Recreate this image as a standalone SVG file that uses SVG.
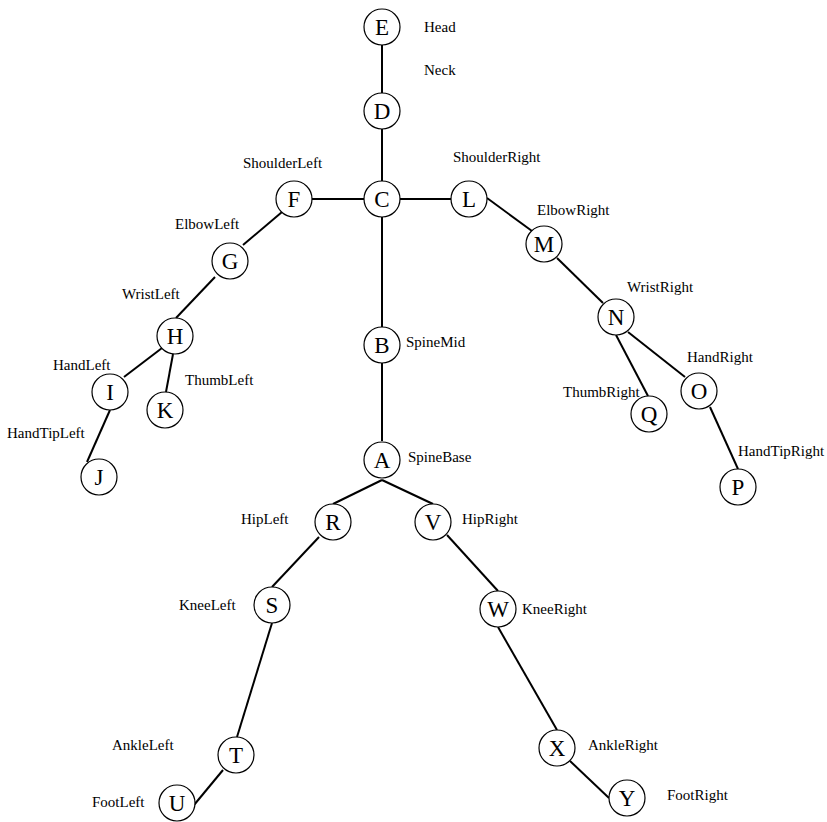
<svg xmlns="http://www.w3.org/2000/svg" width="827" height="822" viewBox="0 0 827 822">
<style>
.n circle{fill:#fff;stroke:#000;stroke-width:1.2}
.n text{font-family:"Liberation Serif",serif;font-size:23px;text-anchor:middle;fill:#000}
.lbl{font-family:"Liberation Serif",serif;font-size:15px;fill:#000}
#edges line{stroke:#000;stroke-width:2}
</style>
<rect width="827" height="822" fill="#fff"/>
<g id="edges">
<line x1="382" y1="45" x2="382" y2="93"/>
<line x1="382" y1="129" x2="382" y2="181"/>
<line x1="364" y1="199" x2="312" y2="199"/>
<line x1="400" y1="199" x2="451" y2="199"/>
<line x1="382" y1="217" x2="382" y2="327"/>
<line x1="382" y1="363" x2="382" y2="441"/>
<line x1="487" y1="198" x2="532" y2="231"/>
<line x1="557" y1="258" x2="603" y2="303"/>
<line x1="616" y1="335" x2="648" y2="396"/>
<line x1="628" y1="332" x2="685" y2="377"/>
<line x1="710" y1="407" x2="738" y2="469"/>
<line x1="282" y1="212" x2="243" y2="245"/>
<line x1="215" y1="277" x2="176" y2="318"/>
<line x1="162" y1="348" x2="124" y2="377"/>
<line x1="173" y1="354" x2="166" y2="392"/>
<line x1="110" y1="410" x2="87" y2="462"/>
<line x1="382" y1="480" x2="333" y2="504"/>
<line x1="382" y1="480" x2="433" y2="504"/>
<line x1="319" y1="537" x2="272" y2="587"/>
<line x1="447" y1="535" x2="498" y2="591"/>
<line x1="272" y1="623" x2="237" y2="737"/>
<line x1="498" y1="627" x2="557" y2="730"/>
<line x1="570" y1="761" x2="609" y2="798"/>
<line x1="223" y1="770" x2="194" y2="805"/>
</g>
<g id="E" class="n"><circle cx="382" cy="27" r="18"/><text x="382" y="35">E</text></g>
<g id="D" class="n"><circle cx="382" cy="111" r="18"/><text x="382" y="119">D</text></g>
<g id="C" class="n"><circle cx="382" cy="199" r="18"/><text x="382" y="207">C</text></g>
<g id="F" class="n"><circle cx="294" cy="199" r="18"/><text x="294" y="207">F</text></g>
<g id="L" class="n"><circle cx="469" cy="199" r="18"/><text x="469" y="207">L</text></g>
<g id="G" class="n"><circle cx="230" cy="261" r="18"/><text x="230" y="269">G</text></g>
<g id="M" class="n"><circle cx="544" cy="244" r="18"/><text x="544" y="252">M</text></g>
<g id="H" class="n"><circle cx="175" cy="336" r="18"/><text x="175" y="344">H</text></g>
<g id="N" class="n"><circle cx="616" cy="317" r="18"/><text x="616" y="325">N</text></g>
<g id="I" class="n"><circle cx="110" cy="392" r="18"/><text x="110" y="400">I</text></g>
<g id="K" class="n"><circle cx="165" cy="410" r="18"/><text x="165" y="418">K</text></g>
<g id="B" class="n"><circle cx="382" cy="345" r="18"/><text x="382" y="353">B</text></g>
<g id="O" class="n"><circle cx="699" cy="391" r="18"/><text x="699" y="399">O</text></g>
<g id="Q" class="n"><circle cx="649" cy="414" r="18"/><text x="649" y="422">Q</text></g>
<g id="J" class="n"><circle cx="99" cy="477" r="18"/><text x="99" y="485">J</text></g>
<g id="P" class="n"><circle cx="738" cy="487" r="18"/><text x="738" y="495">P</text></g>
<g id="A" class="n"><circle cx="382" cy="460" r="18"/><text x="382" y="468">A</text></g>
<g id="R" class="n"><circle cx="333" cy="522" r="18"/><text x="333" y="530">R</text></g>
<g id="V" class="n"><circle cx="433" cy="522" r="18"/><text x="433" y="530">V</text></g>
<g id="S" class="n"><circle cx="272" cy="605" r="18"/><text x="272" y="613">S</text></g>
<g id="W" class="n"><circle cx="498" cy="609" r="18"/><text x="498" y="617">W</text></g>
<g id="T" class="n"><circle cx="236" cy="755" r="18"/><text x="236" y="763">T</text></g>
<g id="X" class="n"><circle cx="557" cy="748" r="18"/><text x="557" y="756">X</text></g>
<g id="U" class="n"><circle cx="177" cy="803" r="18"/><text x="177" y="811">U</text></g>
<g id="Y" class="n"><circle cx="627" cy="798" r="18"/><text x="627" y="806">Y</text></g>
<g id="labels" class="lbl">
<text x="424" y="32">Head</text>
<text x="424" y="75">Neck</text>
<text x="243" y="168">ShoulderLeft</text>
<text x="453" y="162">ShoulderRight</text>
<text x="175" y="229">ElbowLeft</text>
<text x="537" y="215">ElbowRight</text>
<text x="122" y="299">WristLeft</text>
<text x="627" y="292">WristRight</text>
<text x="53" y="370">HandLeft</text>
<text x="687" y="362">HandRight</text>
<text x="185" y="385">ThumbLeft</text>
<text x="563" y="397">ThumbRight</text>
<text x="7" y="438">HandTipLeft</text>
<text x="738" y="456">HandTipRight</text>
<text x="406" y="347">SpineMid</text>
<text x="408" y="462">SpineBase</text>
<text x="241" y="524">HipLeft</text>
<text x="462" y="524">HipRight</text>
<text x="179" y="610">KneeLeft</text>
<text x="522" y="614">KneeRight</text>
<text x="112" y="750">AnkleLeft</text>
<text x="588" y="750">AnkleRight</text>
<text x="92" y="807">FootLeft</text>
<text x="667" y="800">FootRight</text>
</g>
</svg>
